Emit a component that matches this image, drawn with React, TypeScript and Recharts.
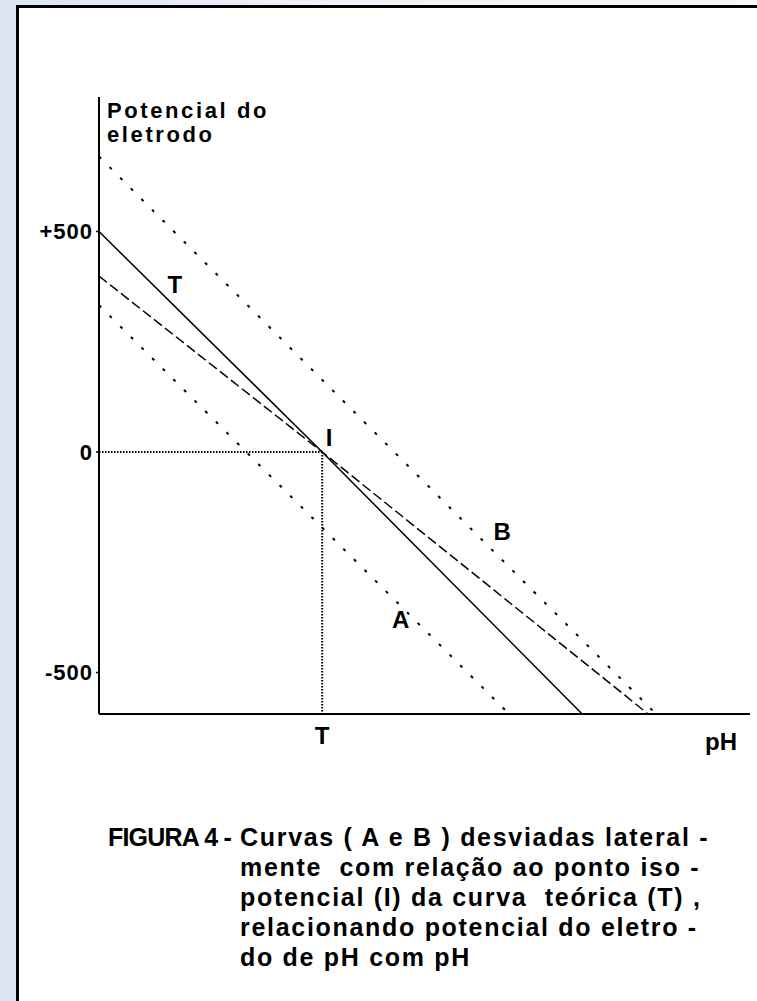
import React from 'react';
import { LineChart, Line, XAxis, YAxis, ReferenceLine, ReferenceDot } from 'recharts';

// pH (x) against electrode potential in mV (y)
const curveT = [{ x: 0, y: 500 }, { x: 4.8, y: 0 }, { x: 10.39, y: -594 }];
const curveI = [{ x: 0, y: 399 }, { x: 4.8, y: 0 }, { x: 11.81, y: -594 }];
const curveA = [{ x: 0, y: 333 }, { x: 8.82, y: -594 }];
const curveB = [{ x: 0, y: 670 }, { x: 11.98, y: -594 }];

const isoPoint = { x: 4.8, y: 0 };
const yTicks = [500, 0, -500];
const xTicks = [4.8];
const xTickLabels = ['T'];

const curveLabels = [
  { name: 'T', x: 1.63, y: 379 },
  { name: 'I', x: 4.95, y: 32 },
  { name: 'B', x: 8.67, y: -181 },
  { name: 'A', x: 6.49, y: -379 },
];

const figureLabel = 'FIGURA 4 -';
const captionLines = [
  'Curvas ( A e B ) desviadas lateral -',
  'mente  com relação ao ponto iso -',
  'potencial (I) da curva  teórica (T) ,',
  'relacionando potencial do eletro -',
  'do de pH com pH',
];

const FONT = "'Liberation Sans', Arial, sans-serif";

const textStyle: React.CSSProperties = {
  position: 'absolute',
  fontFamily: FONT,
  fontWeight: 'bold',
  fontSize: 24,
  color: '#000',
  whiteSpace: 'pre',
};

export default function App() {
  return (
    <div
      style={{
        position: 'fixed',
        left: 0,
        top: 0,
        width: 757,
        height: 1001,
        overflow: 'hidden',
        background: 'linear-gradient(to right, #dce4ef 0%, #eef2f8 40%, #f5f7fb 100%)',
      }}
    >
      <div
        style={{
          position: 'absolute',
          left: 16,
          top: 5,
          width: 780,
          height: 1040,
          background: '#fff',
          border: '3px solid #000',
        }}
      />

      <div style={{ position: 'absolute', left: 0, top: 0 }}>
        <LineChart width={757} height={1001} margin={{ top: 97, right: 7, bottom: 247, left: 39 }}>
          <XAxis
            type="number"
            dataKey="x"
            domain={[0, 14]}
            allowDataOverflow
            ticks={xTicks}
            tickFormatter={(v: number) => xTickLabels[xTicks.indexOf(v)] ?? ''}
            height={40}
            axisLine={{ stroke: '#000', strokeWidth: 2 }}
            tickLine={false}
            tickSize={6}
            tickMargin={7}
            tick={{ fill: '#000', fontSize: 24, fontWeight: 'bold', fontFamily: FONT }}
          />
          <YAxis
            type="number"
            domain={[-594, 805]}
            allowDataOverflow
            ticks={yTicks}
            tickFormatter={(v: number) => (v > 0 ? `+${v}` : String(v))}
            width={60}
            axisLine={{ stroke: '#000', strokeWidth: 2 }}
            tickLine={{ stroke: '#000', strokeWidth: 1.5 }}
            tickSize={3}
            tickMargin={3}
            tick={{ fill: '#000', fontSize: 22, fontWeight: 'bold', fontFamily: FONT, letterSpacing: 1 }}
          />

          <ReferenceLine
            segment={[{ x: 0, y: isoPoint.y }, { x: isoPoint.x, y: isoPoint.y }]}
            stroke="#000"
            strokeWidth={2}
            strokeDasharray="1.5 1.5"
            ifOverflow="visible"
          />
          <ReferenceLine
            segment={[{ x: isoPoint.x, y: isoPoint.y }, { x: isoPoint.x, y: -594 }]}
            stroke="#000"
            strokeWidth={2}
            strokeDasharray="1.5 1.5"
            ifOverflow="visible"
          />

          <Line data={curveB} dataKey="y" type="linear" stroke="#000" strokeWidth={2} strokeDasharray="3 12" dot={false} isAnimationActive={false} />
          <Line data={curveA} dataKey="y" type="linear" stroke="#000" strokeWidth={2} strokeDasharray="3 12" dot={false} isAnimationActive={false} />
          <Line data={curveI} dataKey="y" type="linear" stroke="#000" strokeWidth={1.5} strokeDasharray="10 4" dot={false} isAnimationActive={false} />
          <Line data={curveT} dataKey="y" type="linear" stroke="#000" strokeWidth={1.5} dot={false} isAnimationActive={false} />

          {curveLabels.map((l) => (
            <ReferenceDot
              key={l.name}
              x={l.x}
              y={l.y}
              r={0}
              ifOverflow="visible"
              shape={(p: any) => (
                <text
                  x={p.cx}
                  y={p.cy}
                  textAnchor="middle"
                  dominantBaseline="central"
                  fontFamily={FONT}
                  fontWeight="bold"
                  fontSize={24}
                  fill="#000"
                >
                  {l.name}
                </text>
              )}
            />
          ))}
        </LineChart>
      </div>

      <div style={{ ...textStyle, left: 107, top: 99, fontSize: 22, lineHeight: '24px', letterSpacing: 2.6 }}>
        <div>Potencial do</div>
        <div>eletrodo</div>
      </div>

      <div style={{ ...textStyle, left: 705, top: 730, lineHeight: '24px' }}>pH</div>

      <div style={{ ...textStyle, left: 108, top: 822, fontSize: 25, lineHeight: '30px', letterSpacing: -0.8 }}>{figureLabel}</div>
      <div style={{ ...textStyle, left: 240, top: 822, fontSize: 25, lineHeight: '30px', letterSpacing: 1.7 }}>
        {captionLines.map((line, i) => (
          <div key={i}>{line}</div>
        ))}
      </div>
    </div>
  );
}
